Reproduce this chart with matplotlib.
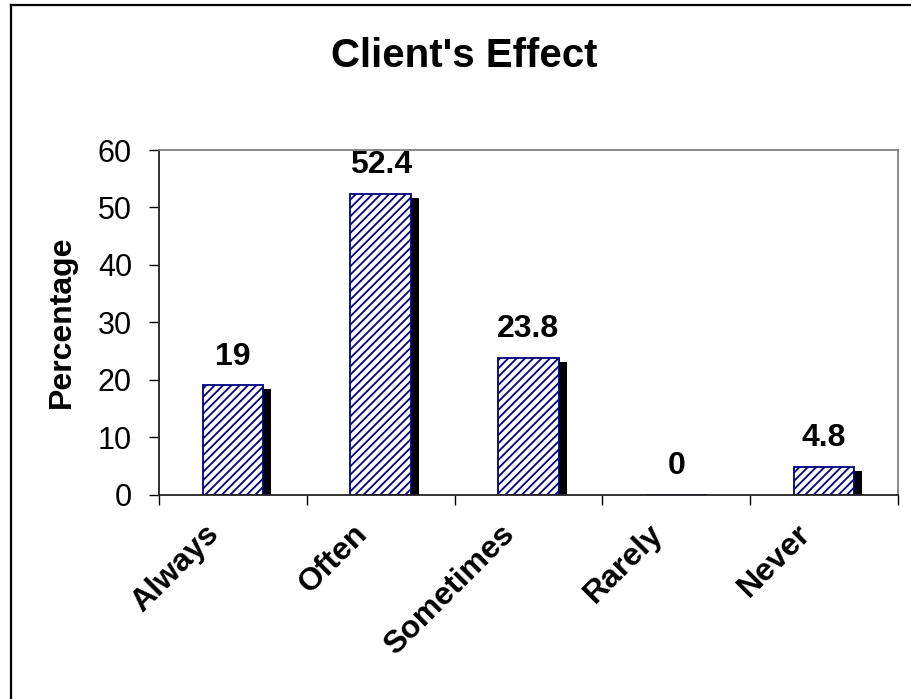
import matplotlib
matplotlib.use("Agg")
import matplotlib.pyplot as plt
from matplotlib import transforms
from matplotlib.lines import Line2D
import numpy as np

categories = ["Always", "Often", "Sometimes", "Rarely", "Never"]
values = [19, 52.4, 23.8, 0, 4.8]
value_labels = ["19", "52.4", "23.8", "0", "4.8"]
yticks = [0, 10, 20, 30, 40, 50, 60]

plt.rcParams['font.family'] = ['Liberation Sans', 'DejaVu Sans']
plt.rcParams['hatch.linewidth'] = 1.3
plt.rcParams['hatch.color'] = '#000080'

W, H = 911, 699
fig = plt.figure(figsize=(W / 100, H / 100), dpi=100)
fig.patch.set_facecolor('white')

ax = fig.add_axes([159 / W, 1 - 494.5 / H, 739 / W, 344.5 / H])
x = np.arange(len(categories))
bw = 0.41

# shadow bars (offset copy of the data transform)
shadow_tr = transforms.offset_copy(ax.transData, fig=fig, x=8, y=-4, units='dots')
ax.bar(x, values, bw, color='black', edgecolor='none', transform=shadow_tr, zorder=1)
ax.bar(x, values, bw, facecolor='white', edgecolor='#000080', linewidth=1.3,
       hatch='////', zorder=2)

for xi, v, lab in zip(x, values, value_labels):
    ax.annotate(lab, (xi, v), xytext=(0, 15), textcoords='offset points',
                ha='center', va='baseline', fontsize=23, fontweight='bold')

ax.set_xlim(-0.5, len(categories) - 0.5)
ax.set_ylim(0, 60)
ax.set_yticks(yticks)
ax.set_yticklabels([str(t) for t in yticks], fontsize=22)
ax.tick_params(axis='y', length=7.5, width=1, pad=12, color='black')

ax.set_xticks(np.arange(len(categories) + 1) - 0.5)
ax.set_xticklabels([])
ax.tick_params(axis='x', which='major', length=7.5, width=1, color='black')
ax.set_xticks(x, minor=True)
ax.set_xticklabels(categories, minor=True, rotation=45, ha='right', va='center',
                   rotation_mode='anchor', fontsize=23, fontweight='bold')
ax.tick_params(axis='x', which='minor', length=0, pad=25)
off = transforms.ScaledTranslation(-18 / 100, 0, fig.dpi_scale_trans)
for lbl in ax.get_xticklabels(minor=True):
    lbl.set_transform(lbl.get_transform() + off)

for s in ['top', 'right']:
    ax.spines[s].set_color('#808080')
    ax.spines[s].set_linewidth(1.3)
for s in ['left', 'bottom']:
    ax.spines[s].set_color('#222222')
    ax.spines[s].set_linewidth(1.3)

fig.text(464 / W, 1 - 67 / H, "Client's Effect", ha='center', va='baseline',
         fontsize=29, fontweight='bold')
fig.text(62 / W, 1 - 322 / H, "Percentage", ha='center', va='center',
         rotation=90, fontsize=23, fontweight='bold')

# figure border (left and top edges visible)
fig.add_artist(Line2D([11 / W, 11 / W], [0, 1 - 5 / H], transform=fig.transFigure,
                      color='black', linewidth=1.6))
fig.add_artist(Line2D([11 / W, 1], [1 - 5 / H, 1 - 5 / H], transform=fig.transFigure,
                      color='black', linewidth=1.6))

fig.savefig('out.png', dpi=100, facecolor='white')
